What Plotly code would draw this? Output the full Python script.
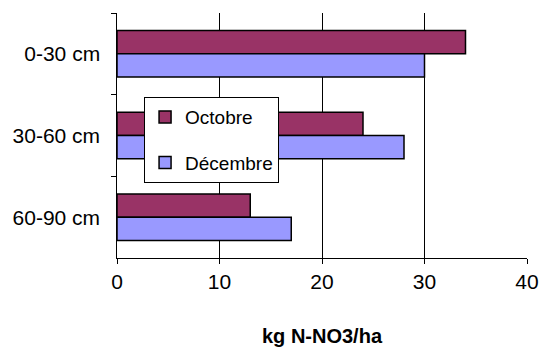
import plotly.graph_objects as go

categories = ["0-30 cm", "30-60 cm", "60-90 cm"]
octobre = [34, 24, 13]
decembre = [30, 28, 17]
x_ticks = [0, 10, 20, 30, 40]

font_family = "Liberation Sans, Arial, sans-serif"

fig = go.Figure()
fig.add_trace(go.Bar(
    y=categories, x=octobre, name="Octobre", orientation="h",
    marker=dict(color="#993366", line=dict(color="black", width=1.5)),
    legendgroup="a",
))
fig.add_trace(go.Bar(
    y=categories, x=decembre, name="Décembre", orientation="h",
    marker=dict(color="#9999FF", line=dict(color="black", width=1.5)),
    legendgroup="b",
))

fig.update_layout(
    width=543, height=347,
    margin=dict(l=117, r=16, t=13, b=89, autoexpand=False),
    paper_bgcolor="white", plot_bgcolor="white",
    font=dict(family=font_family, size=20, color="black"),
    barmode="group", bargap=0.43, bargroupgap=0,
    showlegend=True,
    legend=dict(
        x=0.066, y=0.657, xanchor="left", yanchor="top",
        bgcolor="white", bordercolor="black", borderwidth=1,
        font=dict(family=font_family, size=19, color="black"),
        traceorder="grouped", tracegroupgap=18,
        itemwidth=30,
    ),
    xaxis=dict(
        range=[0, 40], tickvals=x_ticks, ticktext=[str(v) for v in x_ticks],
        tickfont=dict(size=21),
        showgrid=True, gridcolor="black", gridwidth=1,
        showline=True, linecolor="black", linewidth=1,
        ticks="outside", ticklen=5, tickcolor="black",
        zeroline=False, automargin=False,
        title=dict(text="<b>kg N-NO3/ha</b>", font=dict(size=20), standoff=38),
    ),
    yaxis=dict(
        categoryorder="array", categoryarray=categories,
        autorange="reversed", automargin=False,
        tickfont=dict(size=21),
        showline=True, linecolor="black", linewidth=1,
        ticks="outside", ticklen=5, tickcolor="black",
        tickson="boundaries", showgrid=False,
        ticksuffix="  ",
    ),
)

fig.write_html("out.html")
